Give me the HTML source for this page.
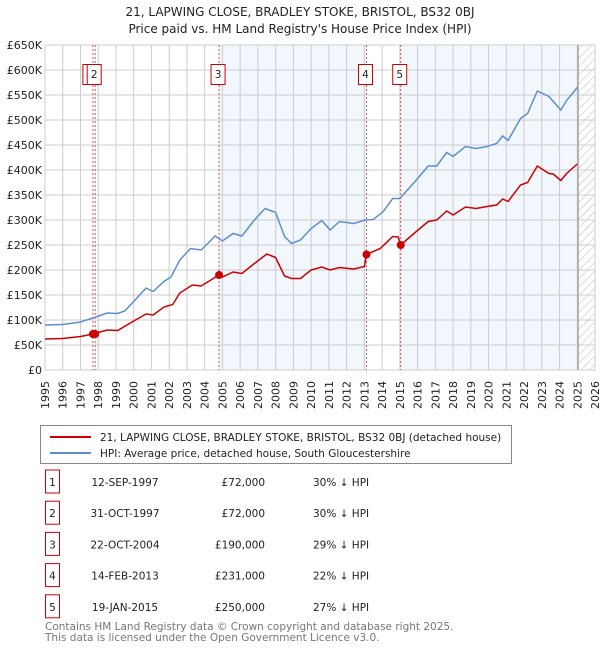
<!DOCTYPE html>
<html><head><meta charset="utf-8">
<style>
body{margin:0;background:#fff;font-family:"DejaVu Sans","Liberation Sans",sans-serif;}
svg text{font-family:"DejaVu Sans","Liberation Sans",sans-serif;}
</style></head>
<body>
<svg id="c" width="600" height="650" xmlns="http://www.w3.org/2000/svg">
<defs>
<pattern id="hatch" width="6" height="6" patternUnits="userSpaceOnUse" patternTransform="rotate(45)">
<line x1="0" y1="0" x2="0" y2="6" stroke="#bbb" stroke-width="1"/>
</pattern>
</defs>
<text x="300" y="16" text-anchor="middle" font-size="12" fill="#222">21, LAPWING CLOSE, BRADLEY STOKE, BRISTOL, BS32 0BJ</text>
<text x="300" y="33" text-anchor="middle" font-size="12" fill="#222">Price paid vs. HM Land Registry's House Price Index (HPI)</text>
<g id="plot"></g>
<g>
<rect x="40.5" y="425.5" width="471" height="38" fill="#fff" stroke="#888"/>
<line x1="50" y1="437" x2="91" y2="437" stroke="#cc0000" stroke-width="2"/>
<text x="100" y="441" font-size="10.5" fill="#222">21, LAPWING CLOSE, BRADLEY STOKE, BRISTOL, BS32 0BJ (detached house)</text>
<line x1="50" y1="453" x2="91" y2="453" stroke="#5b8fd0" stroke-width="2"/>
<text x="100" y="457" font-size="10.5" fill="#222">HPI: Average price, detached house, South Gloucestershire</text>
</g>
<g id="table"></g>
<text x="45" y="630" font-size="10.5" fill="#777">Contains HM Land Registry data © Crown copyright and database right 2025.</text>
<text x="45" y="641" font-size="10.5" fill="#777">This data is licensed under the Open Government Licence v3.0.</text>
</svg>
<script>
const hpiYears=[1995,1996,1997,1997.7,1998.5,1999.1,1999.5,2000,2000.7,2001.1,2001.7,2002.1,2002.6,2003.2,2003.8,2004.6,2005,2005.6,2006.1,2006.8,2007.4,2008,2008.5,2008.9,2009.4,2010.0,2010.6,2011.07,2011.6,2012.4,2013.04,2013.5,2014.07,2014.6,2015.0,2015.86,2016.6,2017.08,2017.64,2018.0,2018.7,2019.3,2019.9,2020.46,2020.8,2021.1,2021.8,2022.2,2022.75,2023.4,2023.65,2024.07,2024.4,2025.0];
const hpiValues=[90,91,96,104,114,113,118,137,164,157,177,186,220,243,240,268,258,273,268,300,323,315,267,253,260,283,299,280,297,293,300,301,317,343,343,377,408,408,435,427,447,443,447,453,468,459,503,513,558,547,537,520,539,565];
const priceYears=[1995,1996,1997,1997.7,1998.5,1999.1,2000,2000.7,2001.1,2001.7,2002.2,2002.6,2003.3,2003.8,2004.81,2005,2005.6,2006.1,2006.8,2007.5,2008,2008.5,2008.9,2009.4,2010.0,2010.6,2011.07,2011.6,2012.4,2013.0,2013.12,2013.9,2014.6,2014.9,2015.05,2015.86,2016.6,2017.08,2017.64,2018,2018.7,2019.3,2019.9,2020.46,2020.8,2021.1,2021.8,2022.2,2022.75,2023.4,2023.65,2024.07,2024.4,2025.0];
const priceValues=[62,63,67,72,80,79,98,112,110,126,131,154,170,168,190,186,196,193,213,232,225,188,183,183,200,206,200,205,202,207,231,243,267,266,250,275,297,300,318,310,326,323,327,330,342,337,370,375,408,393,392,379,393,412];
const saleIds=["1","2","3","4","5"];
const saleYears=[1997.7,1997.83,2004.81,2013.12,2015.05];
const saleValues=[72,72,190,231,250];
const saleDates=["12-SEP-1997","31-OCT-1997","22-OCT-2004","14-FEB-2013","19-JAN-2015"];
const salePrices=["£72,000","£72,000","£190,000","£231,000","£250,000"];
const saleHpi=["30% ↓ HPI","30% ↓ HPI","29% ↓ HPI","22% ↓ HPI","27% ↓ HPI"];
const yTicks=[0,50,100,150,200,250,300,350,400,450,500,550,600,650];
const yTickLabels=["£0","£50K","£100K","£150K","£200K","£250K","£300K","£350K","£400K","£450K","£500K","£550K","£600K","£650K"];
const xTicks=[];for(let y=1995;y<=2026;y++)xTicks.push(y);
const dataEnd=2025.05;

const X0=45,X1=595,Y0=370,Y1=45;
const sx=v=>X0+(v-1995)/(2026-1995)*(X1-X0);
const sy=v=>Y0-(v/650)*(Y0-Y1);
const NS="http://www.w3.org/2000/svg";
const g=document.getElementById('plot');
function mk(tag,attrs,parent){const e=document.createElementNS(NS,tag);for(const k in attrs)e.setAttribute(k,attrs[k]);(parent||g).appendChild(e);return e;}

let e;
// shaded ownership periods
for(let i=2;i<saleYears.length;i++){
  if(i===3)continue;
}
e=mk('rect',{x:sx(saleYears[2]),y:Y1,width:sx(saleYears[3])-sx(saleYears[2]),height:Y0-Y1,fill:'#eef3fc',opacity:0.75});


e=mk('rect',{x:sx(saleYears[4]),y:Y1,width:sx(dataEnd)-sx(saleYears[4]),height:Y0-Y1,fill:'#eef3fc',opacity:0.75});


e=mk('rect',{x:sx(dataEnd),y:Y1,width:X1-sx(dataEnd),height:Y0-Y1,fill:'url(#hatch)'});


// grid
yTicks.forEach((t,i)=>{
  e=mk('line',{x1:X0,x2:X1,y1:sy(t),y2:sy(t),stroke:'#ccc','stroke-width':1});
  
  
  e=mk('text',{x:X0-3,y:sy(t)+4,'text-anchor':'end','font-size':11,fill:'#222'});
  e.textContent=yTickLabels[i];
  
  
});
xTicks.forEach(t=>{
  e=mk('line',{x1:sx(t),x2:sx(t),y1:Y1,y2:Y0,stroke:'#ccc','stroke-width':1});
  
  
  e=mk('text',{x:0,y:0,'text-anchor':'end','font-size':11,fill:'#222',transform:`translate(${sx(t)+4},381) rotate(-90)`});
  e.textContent=t;
  
  
});
e=mk('rect',{x:X0,y:Y1,width:X1-X0,height:Y0-Y1,fill:'none',stroke:'#ccc'});


e=mk('line',{x1:sx(dataEnd),x2:sx(dataEnd),y1:Y1,y2:Y0,stroke:'#999','stroke-width':1.2});


// sale vertical lines
saleYears.forEach((yr,i)=>{
  e=mk('line',{x1:sx(yr),x2:sx(yr),y1:Y1,y2:Y0,stroke:'#e05555','stroke-width':1,'stroke-dasharray':'2,2'});
  
  
});
// series
function path(xs,vs){return xs.map((x,i)=>(i?'L':'M')+sx(x).toFixed(1)+','+sy(vs[i]).toFixed(1)).join('');}
e=mk('path',{d:path(hpiYears,hpiValues),fill:'none',stroke:'#5b8fd0','stroke-width':1.5});


e=mk('path',{d:path(priceYears,priceValues),fill:'none',stroke:'#cc0000','stroke-width':1.5});


// markers and label boxes
saleYears.forEach((yr,i)=>{
  e=mk('circle',{cx:sx(yr),cy:sy(saleValues[i]),r:4,fill:'#cc0000'});
  
  
  const bx=sx(yr)-8-(i===0?2:0);
  e=mk('rect',{x:bx,y:64.5,width:14,height:20,fill:'#fff',stroke:'#cc0000','stroke-width':1});
  
  
  e=mk('text',{x:bx+7,y:78,'text-anchor':'middle','font-size':10.5,fill:'#222'});
  e.textContent=saleIds[i];
  
  
});
// table
const tg=document.getElementById('table');
saleIds.forEach((id,i)=>{
  const y=482+i*31.2;
  e=mk('rect',{x:45.5,y:y-12,width:14,height:23,fill:'#fff',stroke:'#cc0000'},tg);
  
  
  e=mk('text',{x:52.5,y:y+4,'text-anchor':'middle','font-size':10.5,fill:'#222'},tg);
  e.textContent=id;
  
  
  e=mk('text',{x:125,y:y+4,'text-anchor':'middle','font-size':10.5,fill:'#222'},tg);
  e.textContent=saleDates[i];
  
  
  e=mk('text',{x:265,y:y+4,'text-anchor':'end','font-size':10.5,fill:'#222'},tg);
  e.textContent=salePrices[i];
  
  
  e=mk('text',{x:313,y:y+4,'font-size':10.5,fill:'#222'},tg);
  e.textContent=saleHpi[i];
  
  
});
</script>
</body></html>
